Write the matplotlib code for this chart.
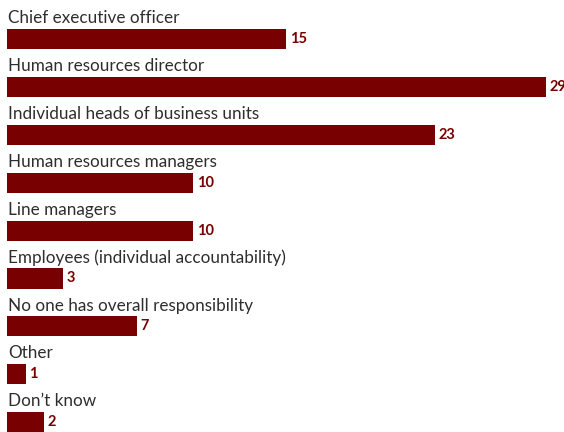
import matplotlib.pyplot as plt

# responsibility for talent / HR strategy, % of respondents
categories = [
    "Chief executive officer",
    "Human resources director",
    "Individual heads of business units",
    "Human resources managers",
    "Line managers",
    "Employees (individual accountability)",
    "No one has overall responsibility",
    "Other",
    "Don\u2019t know",
]
values = [15, 29, 23, 10, 10, 3, 7, 1, 2]

bar_color = "#780000"
text_color = "#2e2e2e"

fig = plt.figure(figsize=(5.64, 4.32), dpi=100)
ax = fig.add_axes([0, 0, 1, 1])

pos = list(range(len(categories)))
ax.barh(pos, values, height=0.42, color=bar_color, left=0)

for i, (cat, v) in enumerate(zip(categories, values)):
    ax.text(0.05, i - 0.33, cat, ha="left", va="baseline",
            fontsize=12.3, color=text_color, family="Lato")
    ax.text(v + 0.2, i, str(v), ha="left", va="center",
            fontsize=10.5, fontweight="bold", color=bar_color, family="Lato")

ax.set_xlim(-0.377, 29.96)
ax.set_ylim(8.205, -0.814)
ax.axis("off")

fig.savefig("out.png", dpi=100)
